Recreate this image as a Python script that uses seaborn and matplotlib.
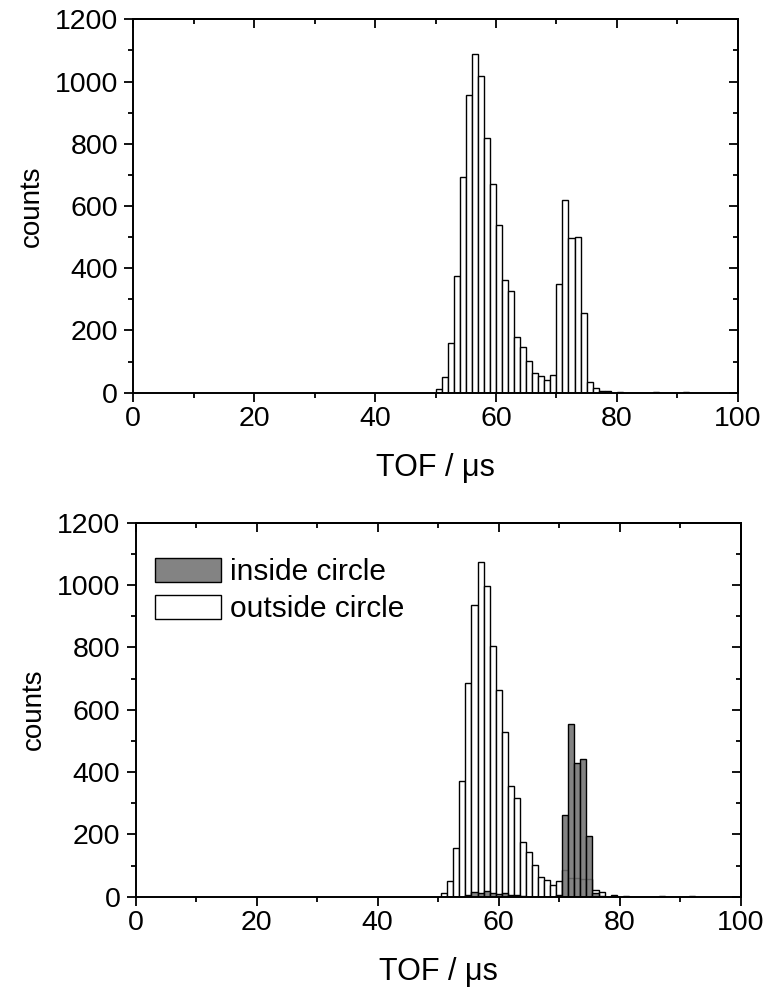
import numpy as np
import matplotlib
matplotlib.use("Agg")
import matplotlib.pyplot as plt
import seaborn as sns
from matplotlib.ticker import MultipleLocator

# ---- data ----
# top panel: bins of width 1 us, given by their left edge
top_tof = [50, 51, 52, 53, 54, 55, 56, 57, 58, 59, 60, 61, 62, 63, 64, 65, 66,
           67, 68, 69, 70, 71, 72, 73, 74, 75, 76, 77, 78, 79, 80, 86, 91]
top_counts = [13, 50, 160, 376, 693, 956, 1088, 1018, 817, 671, 539, 361, 326,
              180, 148, 103, 64, 55, 40, 58, 348, 618, 496, 500, 257, 35, 15,
              6, 6, 0, 3, 2, 2]

# bottom panel: bins of width 1 us, given by their centre
bot_tof = [51, 52, 53, 54, 55, 56, 57, 58, 59, 60, 61, 62, 63, 64, 65, 66, 67,
           68, 69, 70, 71, 72, 73, 74, 75, 76, 77, 79, 81, 87, 92]
bot_outside = [12, 49, 155, 372, 686, 937, 1075, 997, 803, 662, 527, 355, 317,
               175, 144, 101, 62, 53, 39, 49, 85, 61, 61, 56, 58, 21, 15, 4, 3,
               2, 2]
bot_inside = [0, 0, 0, 0, 5, 16, 12, 19, 12, 10, 11, 5, 7, 3, 0, 0, 0, 0, 0, 6,
              261, 554, 430, 442, 195, 13, 3, 0, 0, 0, 0]

labels = ["inside circle", "outside circle"]
xlabel = "TOF / \u03bcs"
ylabel = "counts"

# ---- style ----
sns.set_style("ticks")
plt.rcParams["font.family"] = ["Liberation Sans", "DejaVu Sans"]
for k in ["text.color", "axes.labelcolor", "xtick.color", "ytick.color",
          "axes.edgecolor"]:
    plt.rcParams[k] = "black"
FS = 20.5
FS_XLAB = 22
FS_YLAB = 20
FS_LEG = 21.5
plt.rcParams["font.size"] = FS

fig = plt.figure(figsize=(7.66, 9.96), dpi=100)
ax1 = fig.add_axes([133.3 / 766, 1 - 392.7 / 996, 604.4 / 766, 373.4 / 996])
ax2 = fig.add_axes([135.7 / 766, 1 - 896.7 / 996, 605.0 / 766, 374.0 / 996])

EDGE_LW = 1.0

sns.histplot(x=top_tof, weights=top_counts, binwidth=1, binrange=(50, 92),
             color="white", edgecolor="black", linewidth=EDGE_LW, alpha=1,
             ax=ax1)

sns.histplot(x=bot_tof, weights=bot_outside, binwidth=1, binrange=(50.5, 92.5),
             color="white", edgecolor="black", linewidth=EDGE_LW, alpha=1,
             ax=ax2, label=labels[1])
sns.histplot(x=bot_tof, weights=bot_inside, binwidth=1, binrange=(50.5, 92.5),
             color="#727272", edgecolor="black", linewidth=EDGE_LW, alpha=0.88,
             ax=ax2, label=labels[0])


def style_axes(ax):
    ax.set_xlim(0, 100)
    ax.set_ylim(0, 1200)
    ax.xaxis.set_major_locator(MultipleLocator(20))
    ax.xaxis.set_minor_locator(MultipleLocator(10))
    ax.yaxis.set_major_locator(MultipleLocator(200))
    ax.yaxis.set_minor_locator(MultipleLocator(100))
    for s in ax.spines.values():
        s.set_visible(True)
        s.set_linewidth(1.4)
        s.set_color("black")
    ax.tick_params(axis="both", which="major", direction="out", length=6.5,
                   width=1.3, colors="black", labelsize=FS)
    ax.tick_params(axis="both", which="minor", direction="out", length=3.3,
                   width=1.3, colors="black")
    ax.tick_params(axis="x", which="major", pad=3)
    ax.tick_params(axis="y", which="major", pad=4.5)
    ax.set_xlabel(xlabel, fontsize=FS_XLAB, labelpad=15, color="black")
    ax.set_ylabel(ylabel, fontsize=FS_YLAB, labelpad=7, color="black")
    # mirrored inward ticks on top and right
    top = ax.secondary_xaxis("top")
    top.xaxis.set_major_locator(MultipleLocator(20))
    top.xaxis.set_minor_locator(MultipleLocator(10))
    top.tick_params(which="major", direction="in", length=6.5, width=1.3,
                    labeltop=False)
    top.tick_params(which="minor", direction="in", length=3.3, width=1.3)
    top.spines["top"].set_linewidth(1.4)
    right = ax.secondary_yaxis("right")
    right.yaxis.set_major_locator(MultipleLocator(200))
    right.yaxis.set_minor_locator(MultipleLocator(100))
    right.tick_params(which="major", direction="in", length=6.5, width=1.3,
                      labelright=False)
    right.tick_params(which="minor", direction="in", length=3.3, width=1.3)
    right.spines["right"].set_linewidth(1.4)


style_axes(ax1)
style_axes(ax2)

handles, labs = ax2.get_legend_handles_labels()
order = [labs.index(l) for l in labels]
ax2.legend([handles[i] for i in order], [labs[i] for i in order],
           loc="upper left", bbox_to_anchor=(0.032, 0.905), frameon=False,
           borderaxespad=0, borderpad=0, handlelength=2.2, handleheight=0.85,
           handletextpad=0.3, labelspacing=0.28, fontsize=FS_LEG)

fig.savefig("out.png", dpi=100)
